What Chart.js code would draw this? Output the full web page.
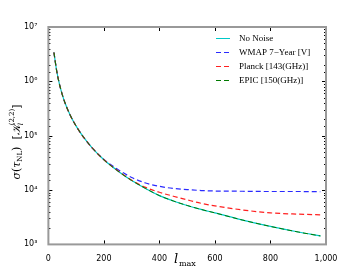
<!DOCTYPE html>
<html>
<head>
<meta charset="utf-8">
<script src="https://cdn.jsdelivr.net/npm/chart.js@4.4.0/dist/chart.umd.min.js"></script>
<style>
  html, body { margin: 0; padding: 0; background: #fff; }
  #wrap { width: 360px; height: 270px; position: relative; }
</style>
</head>
<body>
<div id="wrap"><canvas id="sigmaChart"></canvas></div>
<script>
'use strict';

// --- data ---
const lMax = [20, 30, 40, 50, 60, 80, 100, 130, 160, 200, 250, 300, 350, 400, 450, 500, 550, 600, 700, 800, 900, 980];
const noNoise = [3.4e6, 1.55e6, 8.8e5, 5.7e5, 4.0e5, 2.3e5, 1.5e5, 8.9e4, 5.8e4, 3.6e4, 2.25e4, 1.5e4, 1.07e4, 7.9e3, 6.3e3, 5.2e3, 4.4e3, 3.8e3, 2.8e3, 2.14e3, 1.69e3, 1.43e3];
const wmap = [3.4e6, 1.55e6, 8.8e5, 5.7e5, 4.0e5, 2.3e5, 1.5e5, 8.9e4, 5.8e4, 3.65e4, 2.4e4, 1.7e4, 1.35e4, 1.17e4, 1.07e4, 1.02e4, 9.8e3, 9.6e3, 9.5e3, 9.4e3, 9.4e3, 9.3e3];
const planck = [3.4e6, 1.55e6, 8.8e5, 5.7e5, 4.0e5, 2.3e5, 1.5e5, 8.9e4, 5.8e4, 3.6e4, 2.27e4, 1.52e4, 1.12e4, 9.1e3, 7.7e3, 6.6e3, 5.7e3, 5.1e3, 4.3e3, 3.8e3, 3.6e3, 3.5e3];
const epic = noNoise.slice();
const seriesLabels = ['No Noise', 'WMAP 7\u2212Year [V]', 'Planck [143(GHz)]', 'EPIC [150(GHz)]'];
const xTicks = [0, 200, 400, 600, 800, 1000];
const supDigits = { 3: '\u00b3', 4: '\u2074', 5: '\u2075', 6: '\u2076', 7: '\u2077' };

const FRAME = '#999999';

function pts(ys) {
    return lMax.map((l, i) => ({ x: l, y: ys[i] }));
}

// frame, inward ticks, legend, axis titles
const decorPlugin = {
    id: 'decor',
    afterDatasetsDraw(chart) {
        const ctx = chart.ctx;
        const a = chart.chartArea;
        const xs = chart.scales.x;
        const ys = chart.scales.y;
        ctx.save();

        // inward ticks
        ctx.strokeStyle = '#000';
        ctx.lineWidth = 1;
        ctx.beginPath();
        xTicks.forEach(v => {
            const px = Math.round(xs.getPixelForValue(v)) + 0.5;
            ctx.moveTo(px, a.bottom); ctx.lineTo(px, a.bottom - 4);
            ctx.moveTo(px, a.top); ctx.lineTo(px, a.top + 4);
        });
        ys.ticks.forEach(t => {
            const major = Math.abs(Math.log10(t.value) - Math.round(Math.log10(t.value))) < 1e-9;
            const len = major ? 4 : 2;
            const py = Math.round(ys.getPixelForValue(t.value)) + 0.5;
            ctx.moveTo(a.left, py); ctx.lineTo(a.left + len, py);
            ctx.moveTo(a.right, py); ctx.lineTo(a.right - len, py);
        });
        ctx.stroke();

        // frame
        ctx.strokeStyle = FRAME;
        ctx.lineWidth = 2;
        ctx.strokeRect(a.left, a.top, a.right - a.left, a.bottom - a.top);

        // legend
        const rowsY = [38, 52, 66, 80];
        chart.data.datasets.forEach((ds, i) => {
            const y = rowsY[i] + 0.5;
            ctx.strokeStyle = ds.borderColor;
            ctx.lineWidth = 1;
            ctx.setLineDash(ds.borderDash || []);
            ctx.beginPath();
            ctx.moveTo(216, y); ctx.lineTo(230, y);
            ctx.stroke();
            ctx.setLineDash([]);
            ctx.fillStyle = '#000';
            ctx.font = '9px "Liberation Serif"';
            ctx.textBaseline = 'middle';
            ctx.textAlign = 'left';
            ctx.fillText(ds.label, 239, y);
        });

        // x title: l_max
        ctx.fillStyle = '#000';
        ctx.textBaseline = 'alphabetic';
        ctx.textAlign = 'left';
        ctx.font = 'italic 13px "DejaVu Serif"';
        ctx.fillText('l', 174, 263);
        ctx.font = '8px "DejaVu Serif"';
        ctx.fillText('max', 179, 266);

        // y title: sigma(tau_NL) [K_l^(2,2)]
        const runs = [
            { t: '\u03c3', f: 'italic 11px "DejaVu Serif"', dy: 0 },
            { t: '(', f: '11px "DejaVu Serif"', dy: 0 },
            { t: '\u03c4', f: 'italic 11px "DejaVu Serif"', dy: 0 },
            { t: 'NL', f: '7px "DejaVu Serif"', dy: 2 },
            { t: ')', f: '11px "DejaVu Serif"', dy: 0 },
            { t: '  [', f: '11px "DejaVu Serif"', dy: 0 },
            { t: '\ud835\udca6', f: 'italic 11px "DejaVu Serif"', dy: 0 },
            { t: 'l', f: 'italic 7px "DejaVu Serif"', dy: 3, stack: true },
            { t: '(2,2)', f: '7px "DejaVu Serif"', dy: -6 },
            { t: ']', f: '11px "DejaVu Serif"', dy: 0 }
        ];
        let total = 0;
        const widths = runs.map(r => { ctx.font = r.f; return ctx.measureText(r.t).width; });
        runs.forEach((r, i) => { if (!r.stack) total += widths[i]; });
        ctx.translate(20, 142);
        ctx.rotate(-Math.PI / 2);
        let x = -total / 2;
        runs.forEach((r, i) => {
            ctx.font = r.f;
            ctx.fillText(r.t, x, r.dy);
            if (!r.stack) x += widths[i];
        });
        ctx.restore();
    }
};

const chart = new Chart(document.getElementById('sigmaChart'), {
    type: 'line',
    data: {
        datasets: [
            { label: seriesLabels[0], data: pts(noNoise), borderColor: '#00c8c8', borderWidth: 1.2, order: 4 },
            { label: seriesLabels[1], data: pts(wmap), borderColor: '#2a2aff', borderWidth: 1.2, borderDash: [5, 3], order: 3 },
            { label: seriesLabels[2], data: pts(planck), borderColor: '#ff2020', borderWidth: 1.2, borderDash: [5, 3], order: 2 },
            { label: seriesLabels[3], data: pts(epic), borderColor: '#007a00', borderWidth: 1, borderDash: [5, 3], order: 1 }
        ]
    },
    options: {
        responsive: true,
        maintainAspectRatio: false,
        animation: false,
        elements: { point: { radius: 0 }, line: { tension: 0.4, cubicInterpolationMode: 'monotone', fill: false } },
        layout: { padding: { left: 21, right: 34, top: 27, bottom: 4 } },
        plugins: { legend: { display: false }, tooltip: { enabled: false } },
        scales: {
            x: {
                type: 'linear', min: 0, max: 1000,
                grid: { display: false },
                border: { display: false },
                afterBuildTicks: scale => { scale.ticks = xTicks.map(v => ({ value: v })); },
                ticks: { font: { family: 'DejaVu Sans', size: 8 }, color: '#000', padding: 2, maxRotation: 0 }
            },
            y: {
                type: 'logarithmic', min: 1e3, max: 1e7,
                grid: { display: false },
                border: { display: false },
                ticks: {
                    autoSkip: false,
                    font: { family: 'DejaVu Sans', size: 8 },
                    color: '#000',
                    padding: 3,
                    callback: value => {
                        const e = Math.log10(value);
                        return Math.abs(e - Math.round(e)) < 1e-9 ? '10' + supDigits[Math.round(e)] : '';
                    }
                }
            }
        }
    },
    plugins: [decorPlugin]
});
</script>
</body>
</html>
